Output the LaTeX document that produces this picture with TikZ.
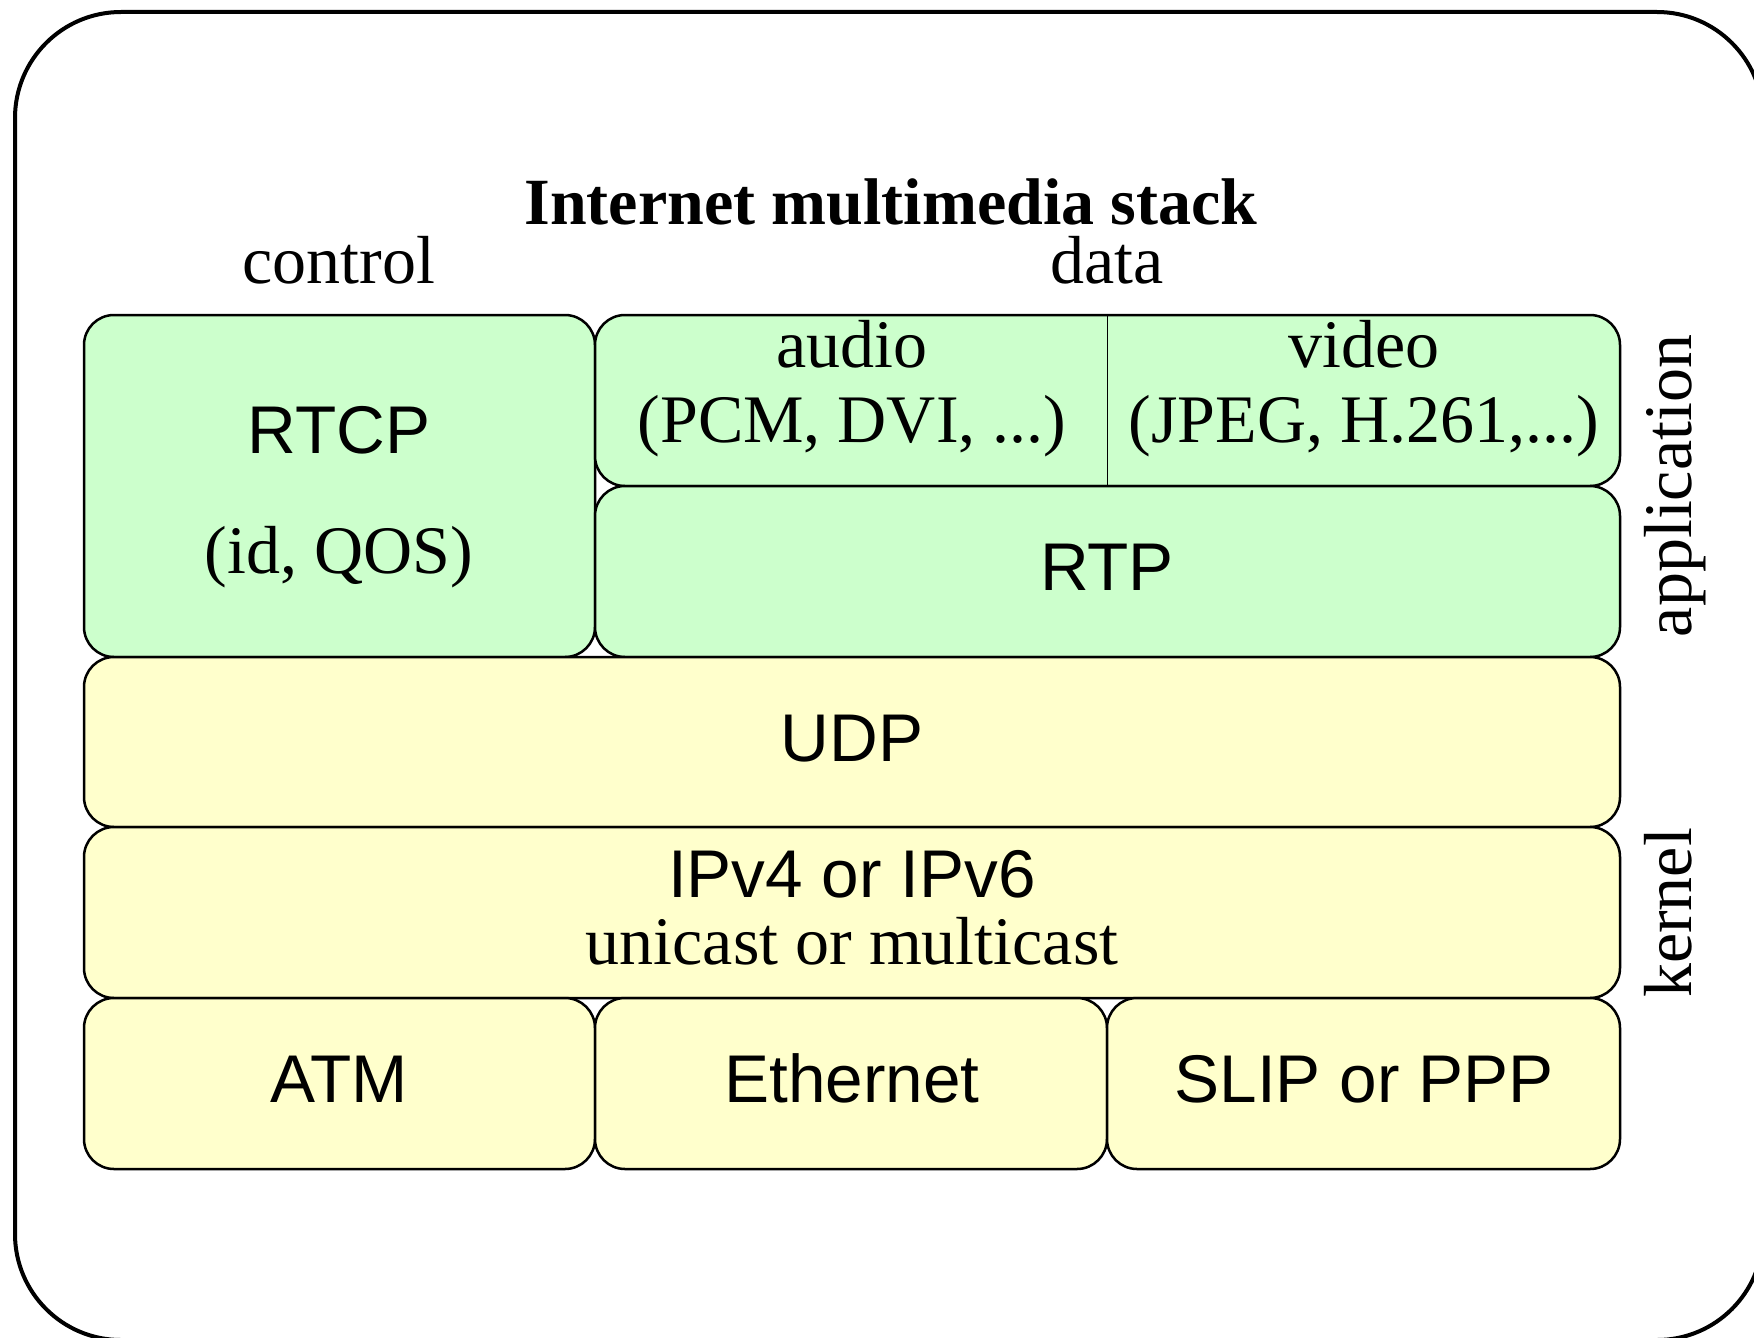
\documentclass[tikz,border=0pt]{standalone}
\usepackage{fontspec}
\setmainfont{Liberation Serif}
\setsansfont{Liberation Sans}
\definecolor{grn}{RGB}{204,255,204}
\definecolor{ylw}{RGB}{255,255,204}
\begin{document}
\begin{tikzpicture}[x=1pt,y=-1pt,
  layer/.style={draw=black, line width=2.5pt, rounded corners=30pt, inner sep=0pt, outer sep=0pt},
  serif/.style={font=\fontsize{68}{80}\selectfont, inner sep=0pt, anchor=base},
  sanslbl/.style={font=\sffamily\fontsize{67.5}{80}\selectfont, inner sep=0pt, anchor=base},
  titlelbl/.style={font=\bfseries\fontsize{66}{80}\selectfont, inner sep=0pt, anchor=base}]
\clip (0,0) rectangle (1754,1338);
\node[draw=black, line width=4pt, rounded corners=106pt, inner sep=0pt, outer sep=0pt,
      minimum width=1748pt, minimum height=1328pt] (frame) at (889,676) {};
% layer boxes
\node[layer, fill=grn, minimum width=511pt, minimum height=342pt] (rtcp) at (339.5,486) {};
\node[layer, fill=grn, minimum width=1025pt, minimum height=171pt] (av) at (1107.5,400.5) {};
\node[layer, fill=grn, minimum width=1025pt, minimum height=171pt] (rtp) at (1107.5,571.5) {};
\node[layer, fill=ylw, minimum width=1536pt, minimum height=170pt] (udp) at (852,742) {};
\node[layer, fill=ylw, minimum width=1536pt, minimum height=171pt] (ip) at (852,912.5) {};
\node[layer, fill=ylw, minimum width=511pt, minimum height=171pt] (atm) at (339.5,1083.5) {};
\node[layer, fill=ylw, minimum width=512pt, minimum height=171pt] (eth) at (851,1083.5) {};
\node[layer, fill=ylw, minimum width=513pt, minimum height=171pt] (slip) at (1363.5,1083.5) {};
\draw[line width=1.5pt] (av.north) -- (av.south);
% texts
\node[titlelbl] (title) at (891,224) {Internet multimedia stack};
\node[serif] (ctrl) at (339,283) {control};
\node[serif] (data) at (1107,283) {data};
\node[sanslbl] (rtcpT) at (339,453) {RTCP};
\node[serif] (rtcpS) at (339,573) {(id, QOS)};
\node[serif] (audT) at (852,367) {audio};
\node[serif] (audS) at (852,442) {(PCM, DVI, ...)};
\node[serif] (vidT) at (1364,367) {video};
\node[serif] (vidS) at (1364,442) {(JPEG, H.261,...)};
\node[sanslbl] (rtpT) at (1107,590) {RTP};
\node[sanslbl] (udpT) at (852,761) {UDP};
\node[sanslbl] (ipT) at (852,897) {IPv4 or IPv6};
\node[serif] (ipS) at (852,964) {unicast or multicast};
\node[sanslbl] (atmT) at (339,1102) {ATM};
\node[sanslbl] (ethT) at (852,1102) {Ethernet};
\node[sanslbl] (slipT) at (1364,1102) {SLIP or PPP};
\node[serif, rotate=90] (appT) at (1691,486) {application};
\node[serif, rotate=90] (kerT) at (1691,913) {kernel};
\end{tikzpicture}
\end{document}
